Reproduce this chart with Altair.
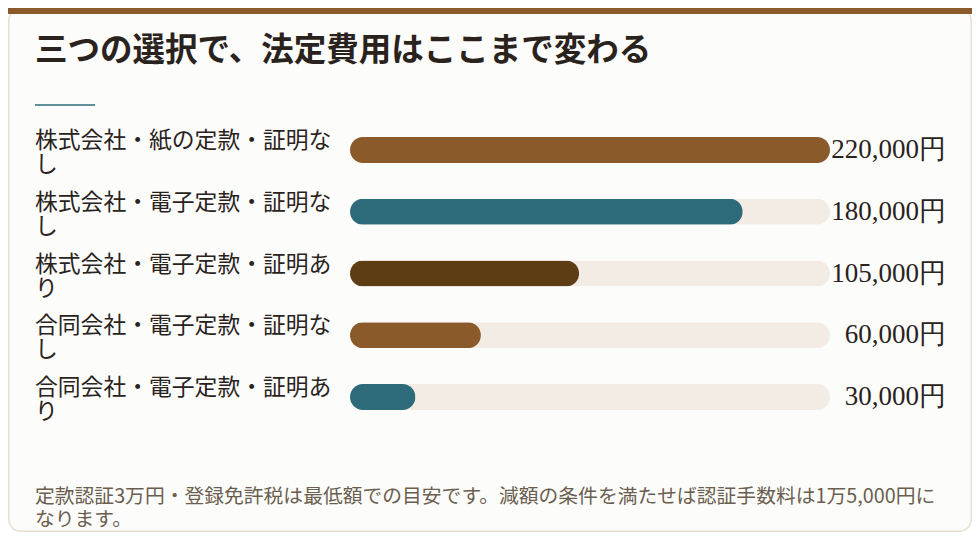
import altair as alt
import pandas as pd

# ---- data ----
categories = [
    "株式会社・紙の定款・証明なし",
    "株式会社・電子定款・証明なし",
    "株式会社・電子定款・証明あり",
    "合同会社・電子定款・証明なし",
    "合同会社・電子定款・証明あり",
]
values = [220000, 180000, 105000, 60000, 30000]
bar_colors = ["#8b5a2b", "#2e6b7a", "#5c3d14", "#8b5a2b", "#2e6b7a"]
max_value = 220000

title_text = "三つの選択で、法定費用はここまで変わる"
note_lines = [
    "定款認証3万円・登録免許税は最低額での目安です。減額の条件を満たせば認証手数料は1万5,000円に",
    "なります。",
]

df = pd.DataFrame({
    "category": categories,
    "value": values,
    "color": bar_colors,
})
df["label"] = [c[:-1] + "\n" + c[-1] for c in categories]
df["value_text"] = [f"{v:,}円" for v in values]
df["track"] = max_value

W, H = 964, 524
INK = "#2a221c"
SANS = "Noto Sans CJK JP"

xs = alt.Scale(domain=[0, max_value], range=[342, 822])
ys = alt.Scale(type="point", domain=categories, range=[142, 389], padding=0)

one = pd.DataFrame({"k": [0]})

card = alt.Chart(one).mark_rect(
    fill="#fcfdfb", stroke="#eadfcf", strokeWidth=1.5, cornerRadius=12
).encode(x=alt.value(0.75), x2=alt.value(W - 0.75), y=alt.value(0.75), y2=alt.value(H - 0.75))

topbar = alt.Chart(one).mark_rect(fill="#8b5a2b").encode(
    x=alt.value(0), x2=alt.value(W), y=alt.value(0), y2=alt.value(6)
)

title = alt.Chart(pd.DataFrame({"t": [title_text]})).mark_text(
    align="left", baseline="middle", fontSize=32.5, fontWeight="bold", font=SANS, color=INK
).encode(x=alt.value(27), y=alt.value(43), text="t:N")

underline = alt.Chart(one).mark_rule(color="#2e6b7a", strokeWidth=1.5).encode(
    x=alt.value(27), x2=alt.value(87), y=alt.value(97)
)

track = alt.Chart(df).mark_bar(size=26, cornerRadius=13, color="#f3ece4").encode(
    x=alt.X("track:Q", scale=xs, axis=None),
    y=alt.Y("category:N", scale=ys, axis=None),
)

bars = alt.Chart(df).mark_bar(size=26, cornerRadius=13).encode(
    x=alt.X("value:Q", scale=xs, axis=None),
    y=alt.Y("category:N", scale=ys, axis=None),
    color=alt.Color("color:N", scale=None),
)

labels = alt.Chart(df).mark_text(
    align="left", baseline="middle", fontSize=22.8, lineHeight=24, dy=-9,
    font=SANS, color=INK, lineBreak="\n"
).encode(
    x=alt.value(27),
    y=alt.Y("category:N", scale=ys, axis=None),
    text="label:N",
)

vals = alt.Chart(df).mark_text(
    align="right", baseline="middle", fontSize=27, font="Liberation Serif", color=INK
).encode(
    x=alt.value(938),
    y=alt.Y("category:N", scale=ys, axis=None),
    text="value_text:N",
)

note = alt.Chart(pd.DataFrame({"t": ["\n".join(note_lines)]})).mark_text(
    align="left", baseline="middle", fontSize=19.8, lineHeight=23, font=SANS,
    color="#6b5d4f", lineBreak="\n"
).encode(x=alt.value(27), y=alt.value(489), text="t:N")

chart = alt.layer(card, topbar, title, underline, track, bars, labels, vals, note).properties(
    width=W, height=H, padding=0,
    autosize=alt.AutoSizeParams(type="none"),
    background="#ffffff",
).configure_view(stroke=None)

chart.save("out.html", embed_options={"renderer": "svg", "actions": False})
